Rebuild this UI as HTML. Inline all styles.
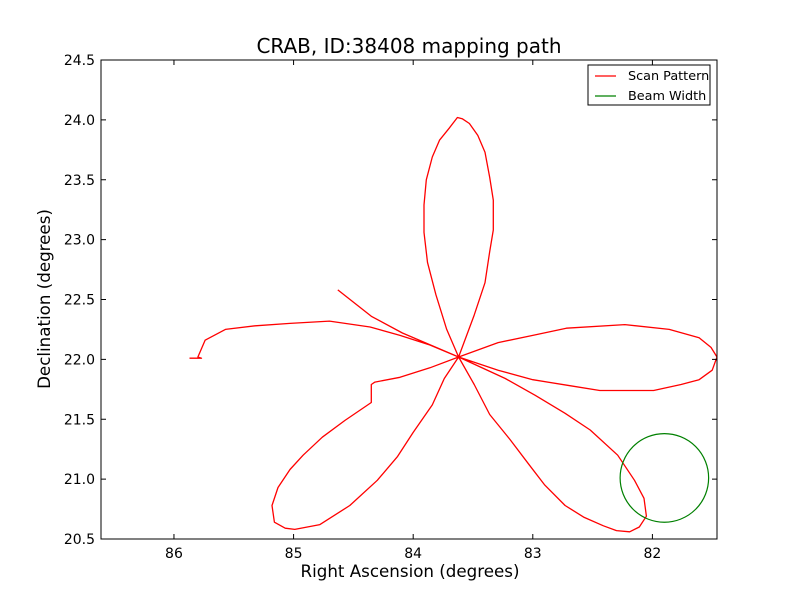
<!DOCTYPE html>
<html><head><meta charset="utf-8">
<style>
body{margin:0;background:#fff;}
svg text{font-family:"DejaVu Sans","Liberation Sans",sans-serif;}
</style></head>
<body>
<svg id="chart" width="800" height="600" xmlns="http://www.w3.org/2000/svg">
<rect width="800" height="600" fill="#fff"/>
<text x="409" y="53" font-size="20" text-anchor="middle">CRAB, ID:38408 mapping path</text>
<g id="plot"></g>
<text x="410" y="577" font-size="16.7" text-anchor="middle">Right Ascension (degrees)</text>
<text transform="translate(50,299) rotate(-90)" font-size="16.7" text-anchor="middle">Declination (degrees)</text>
</svg>
<script>
const xTicks=[86,85,84,83,82];
const yTicks=[20.5,21.0,21.5,22.0,22.5,23.0,23.5,24.0,24.5];
const scanRA=[84.63,84.35,84.09,83.62,83.72,83.81,83.88,83.91,83.91,83.89,83.84,83.78,83.70,83.63,83.59,83.53,83.46,83.40,83.36,83.33,83.33,83.36,83.40,83.49,83.62,
83.29,83.00,82.72,82.23,81.86,81.61,81.51,81.46,81.50,81.61,81.76,81.99,82.19,82.44,82.69,83.00,83.29,83.62,
83.49,83.36,83.19,83.03,82.90,82.73,82.57,82.41,82.30,82.19,82.11,82.05,82.07,82.15,82.29,82.52,82.73,82.98,83.23,83.62,
83.74,83.84,84.00,84.13,84.30,84.53,84.78,84.99,85.07,85.16,85.18,85.13,85.03,84.92,84.76,84.57,84.35,84.35,84.32,84.11,83.86,83.62,
83.86,84.11,84.36,84.70,85.03,85.32,85.57,85.74,85.80,85.77,85.87];
const scanDec=[22.58,22.36,22.22,22.02,22.25,22.54,22.81,23.06,23.29,23.50,23.69,23.83,23.93,24.02,24.01,23.97,23.87,23.73,23.52,23.33,23.08,22.90,22.64,22.37,22.02,
22.14,22.20,22.26,22.29,22.25,22.18,22.10,22.02,21.91,21.83,21.79,21.74,21.74,21.74,21.78,21.83,21.91,22.02,
21.79,21.54,21.33,21.12,20.95,20.78,20.68,20.61,20.57,20.56,20.60,20.69,20.84,20.99,21.20,21.41,21.55,21.70,21.84,22.02,
21.84,21.62,21.39,21.19,20.99,20.78,20.62,20.58,20.59,20.64,20.78,20.93,21.08,21.20,21.35,21.49,21.64,21.79,21.81,21.85,21.93,22.02,
22.12,22.20,22.27,22.32,22.30,22.28,22.25,22.16,22.02,22.01,22.01];
const beamRA=81.90, beamDec=21.01, beamRadius=0.37;

const L=101,R=717,T=60,B=539;
const xMin=86.61,xMax=81.46,yMin=20.5,yMax=24.5;
const X=v=>L+(v-xMin)/(xMax-xMin)*(R-L);
const Y=v=>B-(v-yMin)/(yMax-yMin)*(B-T);
const NS="http://www.w3.org/2000/svg";
const g=document.getElementById('plot');
function mk(t,a){const e=document.createElementNS(NS,t);for(const k in a)e.setAttribute(k,a[k]);g.appendChild(e);return e;}

const defs=mk('clipPath',{id:'clip'});
const cr=document.createElementNS(NS,'rect');
cr.setAttribute('x',L);cr.setAttribute('y',T);cr.setAttribute('width',R-L);cr.setAttribute('height',B-T);
defs.appendChild(cr);

let d=scanRA.map((v,i)=>(i?'L':'M')+X(v).toFixed(1)+','+Y(scanDec[i]).toFixed(1)).join(' ');
const p=mk('path',{d:d,fill:'none',stroke:'#ff0000','stroke-width':1.3,'stroke-linejoin':'round','clip-path':'url(#clip)'});



const rx=Math.abs(X(beamRA+beamRadius)-X(beamRA)), ry=Math.abs(Y(beamDec+beamRadius)-Y(beamDec));
const c=mk('ellipse',{cx:X(beamRA),cy:Y(beamDec),rx:rx,ry:ry,fill:'none',stroke:'#008000','stroke-width':1.2,'clip-path':'url(#clip)'});



const frame=mk('rect',{x:L,y:T,width:R-L,height:B-T,fill:'none',stroke:'#000','stroke-width':1});



xTicks.forEach(v=>{const x=X(v);
 mk('line',{x1:x,x2:x,y1:B,y2:B-5,stroke:'#000'});mk('line',{x1:x,x2:x,y1:T,y2:T+5,stroke:'#000'});
 const t=mk('text',{x:x,y:B+19,'font-size':14,'text-anchor':'middle'});t.textContent=v;
 
 
});
yTicks.forEach(v=>{const y=Y(v);
 mk('line',{x1:L,x2:L+5,y1:y,y2:y,stroke:'#000'});mk('line',{x1:R,x2:R-5,y1:y,y2:y,stroke:'#000'});
 const t=mk('text',{x:L-6,y:y+5,'font-size':14,'text-anchor':'end'});t.textContent=v.toFixed(1);
 
 
});

const lg=mk('rect',{x:588,y:65,width:122,height:40,fill:'#fff',stroke:'#000'});


mk('line',{x1:595,x2:616,y1:76,y2:76,stroke:'#ff0000','stroke-width':1.3});
mk('line',{x1:595,x2:616,y1:96,y2:96,stroke:'#008000','stroke-width':1.3});
const t1=mk('text',{x:628,y:80,'font-size':12.8});t1.textContent='Scan Pattern';


const t2=mk('text',{x:628,y:100,'font-size':12.8});t2.textContent='Beam Width';


</script>
</body></html>
